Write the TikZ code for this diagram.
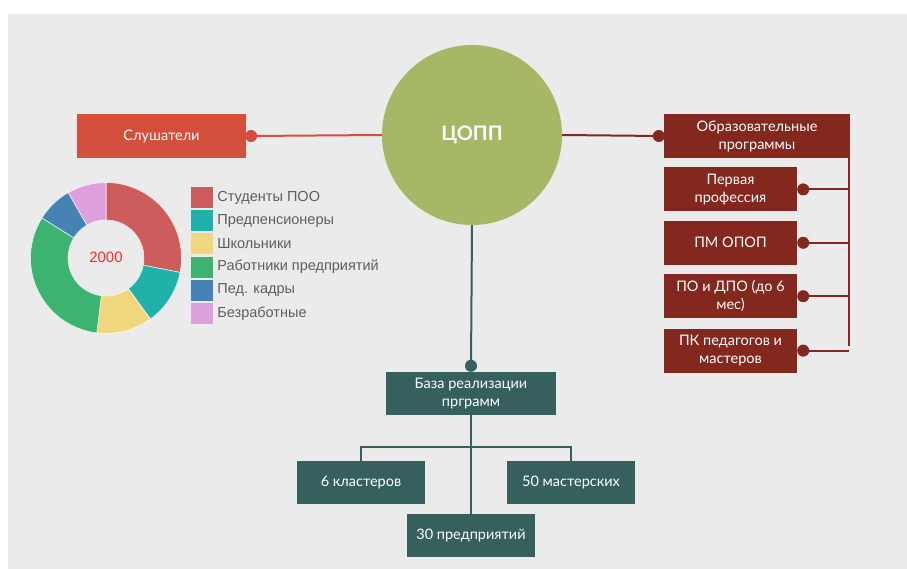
\documentclass[tikz,border=0pt]{standalone}
\usepackage{fontspec}
\setmainfont{Lato}
\newfontfamily\legendfont{Liberation Sans}
\usetikzlibrary{positioning}

\definecolor{bgGrey}{HTML}{EBEBEB}
\definecolor{slushRed}{HTML}{D4503C}
\definecolor{coppGreen}{HTML}{A5B865}
\definecolor{progRed}{HTML}{83271F}
\definecolor{baseTeal}{HTML}{35605D}
\definecolor{pieRed}{HTML}{CD5C5C}
\definecolor{pieTeal}{HTML}{20B2AA}
\definecolor{pieYellow}{HTML}{F0D77E}
\definecolor{pieGreen}{HTML}{3CB371}
\definecolor{pieBlue}{HTML}{4682B4}
\definecolor{piePink}{HTML}{DDA0DD}
\definecolor{legendText}{HTML}{5E5E5E}

\tikzset{
  box/.style={rectangle, text=white, align=center, inner sep=2pt,
    minimum height=44pt, font=\fontsize{14.5}{18}\selectfont},
  progbox/.style={box, fill=progRed, minimum width=133pt},
  basebox/.style={box, fill=baseTeal, minimum width=128pt, minimum height=43pt},
  legsq/.style={rectangle, minimum width=22pt, minimum height=21pt, inner sep=0pt},
  legtxt/.style={font=\legendfont\fontsize{14.5}{16}\selectfont, text=legendText, inner sep=0pt},
  dot/.style={circle, fill, minimum size=12pt, inner sep=0pt}
}

\begin{document}
\begin{tikzpicture}[x=1pt, y=-1pt, node distance=9pt]
  \useasboundingbox (0,0) rectangle (907,569);
  \fill[bgGrey] (8,14) rectangle (907,569);

  % centre and main boxes
  \node[circle, fill=coppGreen, minimum size=180pt, text=white,
    font=\bfseries\fontsize{20}{24}\selectfont] (copp) at (472,135) {ЦОПП};
  \node[box, fill=slushRed, minimum width=169pt] (slush) at (161.5,136) {Слушатели};
  \node[box, fill=progRed, minimum width=186pt] (obr) at (757,136) {Образовательные\\программы};

  % programmes
  \node[progbox, below right=9pt and 0pt of obr.south west] (perv) {Первая\\профессия};
  \node[progbox, below=of perv] (pmopop) {ПМ ОПОП};
  \node[progbox, below=of pmopop] (podpo) {ПО и ДПО (до 6\\мес)};
  \node[progbox, below=10pt of podpo] (pkped) {ПК педагогов и\\мастеров};

  % base of programmes
  \node[box, fill=baseTeal, minimum width=170pt, minimum height=43pt] (base) at (471,393.5) {База реализации\\прграмм};
  \node[basebox] (klast) at (361,482.5) {6 кластеров};
  \node[basebox] (mast) at (571,482.5) {50 мастерских};
  \node[basebox] (pred) at (471,535.5) {30 предприятий};

  % connectors
  \coordinate (slushdot) at ([xshift=5pt]slush.east);
  \coordinate (obrdot) at ([xshift=-5pt]obr.west);
  \coordinate (basedot) at ([yshift=6pt]base.north);
  \coordinate (railtop) at (849,158);
  \coordinate (railbot) at (849,346);

  \draw[slushRed, line width=2pt] (slushdot) -- (copp.west);
  \node[dot, slushRed] at (slushdot) {};
  \draw[progRed, line width=2pt] (copp.east) -- (obrdot);
  \node[dot, progRed] at (obrdot) {};
  \draw[progRed, line width=2pt] (railtop) -- (railbot);
  \foreach \n in {perv,pmopop,podpo,pkped} {
    \coordinate (\n dot) at ([xshift=6pt]\n.east);
    \draw[progRed, line width=2pt] (\n dot) -- (\n dot -| railtop);
    \node[dot, progRed] at (\n dot) {};
  }
  \draw[baseTeal, line width=2pt] (copp.south) -- (basedot);
  \node[dot, baseTeal] at (basedot) {};
  \draw[baseTeal, line width=2pt] (base.south) -- (pred.north);
  \draw[baseTeal, line width=2pt] (klast.north) -- ++(0,-14) -| (mast.north);

  % donut chart
  \begin{scope}[shift={(106,258)}, y=1pt]
    \foreach \a/\b/\c in {90/-11/pieRed, -11/-54/pieTeal, -54/-97/pieYellow,
        -97/-212/pieGreen, -212/-240/pieBlue, -240/-270/piePink} {
      \filldraw[fill=\c, draw=white!85!\c, line width=0.6pt]
        (\a:75.5) arc[start angle=\a, end angle=\b, radius=75.5]
        -- (\b:38) arc[start angle=\b, end angle=\a, radius=38] -- cycle;
    }
    \node[font=\legendfont\fontsize{15}{17}\selectfont, text=red!85!white] (total) at (0,1) {2000};
  \end{scope}

  % legend
  \foreach \i/\c/\t in {0/pieRed/Студенты ПОО, 1/pieTeal/Предпенсионеры,
      2/pieYellow/Школьники, 3/pieGreen/Работники предприятий,
      4/pieBlue/Пед. кадры, 5/piePink/Безработные} {
    \node[legsq, fill=\c] (sq\i) at (202,197.5+23.2*\i) {};
    \node[legtxt, right=4pt of sq\i] (leg\i) {\t};
  }
\end{tikzpicture}
\end{document}
